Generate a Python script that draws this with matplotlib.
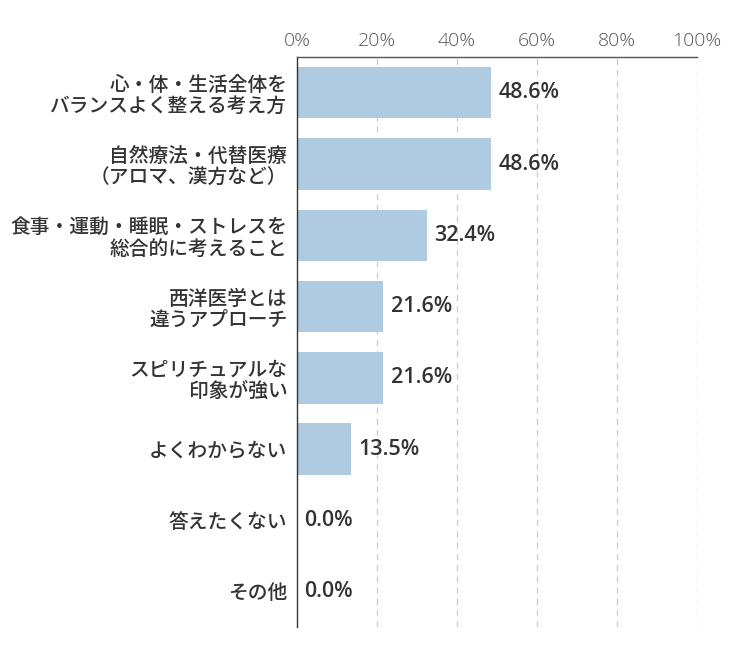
import matplotlib
matplotlib.use("Agg")
import matplotlib.pyplot as plt
import numpy as np

plt.rcParams['font.family'] = ['Noto Sans CJK JP', 'DejaVu Sans']
num_font = ['Open Sans', 'Noto Sans CJK JP']

# ---------- data ----------
labels = [
    "心・体・生活全体を\nバランスよく整える考え方",
    "自然療法・代替医療\n（アロマ、漢方など）",
    "食事・運動・睡眠・ストレスを\n総合的に考えること",
    "西洋医学とは\n違うアプローチ",
    "スピリチュアルな\n印象が強い",
    "よくわからない",
    "答えたくない",
    "その他",
]
values = [48.6, 48.6, 32.4, 21.6, 21.6, 13.5, 0.0, 0.0]
ticks = [0, 20, 40, 60, 80, 100]

# ---------- plot ----------
fig = plt.figure(figsize=(7.5, 6.5), dpi=100)
ax = fig.add_axes([0.396, 0.035, 0.533, 0.877])

y = np.arange(len(labels))
ax.barh(y, values, height=0.72, color="#afcbe2", zorder=2)

for yi, v in zip(y, values):
    ax.text(v + 1.8, yi, f"{v:.1f}%", va="center", ha="left", family=num_font,
            fontsize=15.5, fontweight="semibold", color="#333333", zorder=3)

ax.set_xlim(0, 100)
ax.set_ylim(len(labels) - 0.5, -0.5)
ax.set_yticks(y)
ax.set_yticklabels(labels, fontsize=14.2, fontweight="medium",
                   color="#333333", linespacing=1.15)
ax.xaxis.tick_top()
ax.set_xticks(ticks)
ax.set_xticklabels([f"{t}%" for t in ticks], fontsize=14, family=num_font,
                   color="#555555", fontweight="light")
ax.tick_params(axis="both", length=0)
ax.tick_params(axis="x", pad=5)
ax.tick_params(axis="y", pad=7)

for t in ticks[1:]:
    ax.axvline(t, color="#cccccc", linestyle=(0, (5, 4)), linewidth=0.9, zorder=1)

for s in ["right", "bottom"]:
    ax.spines[s].set_visible(False)
ax.spines["top"].set_color("#555555")
ax.spines["left"].set_color("#333333")
ax.spines["top"].set_linewidth(1.0)
ax.spines["left"].set_linewidth(1.0)

fig.savefig("out.png", dpi=100)
